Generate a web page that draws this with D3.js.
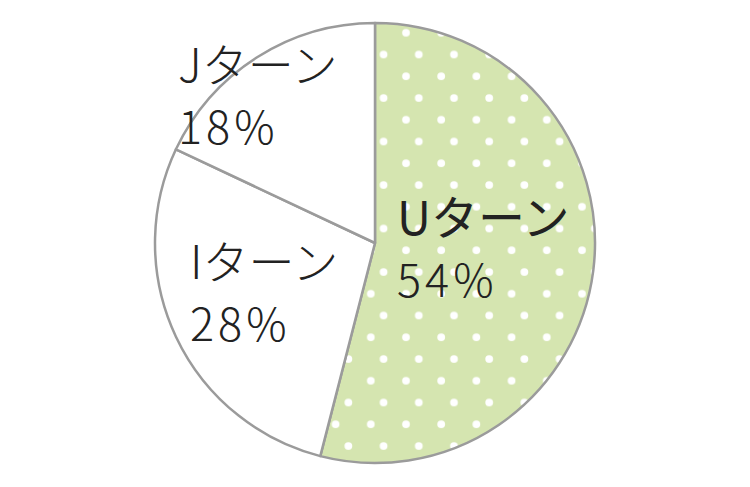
<!DOCTYPE html>
<html>
<head>
<meta charset="utf-8">
<script src="https://cdn.jsdelivr.net/npm/d3@7"></script>
<style>
  body { margin: 0; background: #fff; }
  text { font-family: "Noto Sans CJK JP", "Noto Sans", sans-serif; fill: #222; }
</style>
</head>
<body>
<div id="chart"></div>
<script>
// data
const categories = ["Uターン", "Iターン", "Jターン"];
const shares = [54, 28, 18];

const width = 750, height = 487;
const cx = 375, cy = 243, radius = 220;

// label anchors (left edge, first baseline) per slice
const labelPos = [[397, 235], [190, 279], [178, 82]];

const svg = d3.select("#chart").append("svg")
    .attr("width", width)
    .attr("height", height);

// dotted pattern for the U-turn slice
const defs = svg.append("defs");
const pat = defs.append("pattern")
    .attr("id", "dots")
    .attr("patternUnits", "userSpaceOnUse")
    .attr("x", 375).attr("y", 42.75)
    .attr("width", 35.2).attr("height", 43.5);
pat.append("rect").attr("width", 35.2).attr("height", 43.5).attr("fill", "#d5e5b0");
pat.append("circle").attr("cx", 8).attr("cy", 8).attr("r", 3.9).attr("fill", "#fff");
pat.append("circle").attr("cx", 20.8).attr("cy", 29.75).attr("r", 3.9).attr("fill", "#fff");

const pie = d3.pie().sort(null).value(d => d);
const arc = d3.arc().innerRadius(0).outerRadius(radius);

const g = svg.append("g").attr("transform", `translate(${cx},${cy})`);

g.selectAll("path")
    .data(pie(shares))
    .enter().append("path")
    .attr("d", arc)
    .attr("fill", (d, i) => i === 0 ? "url(#dots)" : "#fff")
    .attr("stroke", "#9b9b9b")
    .attr("stroke-width", 2.5)
    .attr("stroke-linejoin", "round");

// labels
const labels = svg.selectAll(".label")
    .data(categories)
    .enter().append("text")
    .attr("class", "label")
    .attr("x", (d, i) => labelPos[i][0])
    .attr("y", (d, i) => labelPos[i][1]);

labels.append("tspan")
    .attr("font-size", (d, i) => i === 0 ? 47 : 46)
    .attr("font-weight", (d, i) => i === 0 ? 400 : 300)
    .text(d => d);

labels.append("tspan")
    .attr("x", (d, i) => labelPos[i][0])
    .attr("dy", 62)
    .attr("font-size", 45)
    .attr("font-weight", 300)
    .attr("letter-spacing", 4)
    .text((d, i) => shares[i] + "%");
</script>
</body>
</html>
